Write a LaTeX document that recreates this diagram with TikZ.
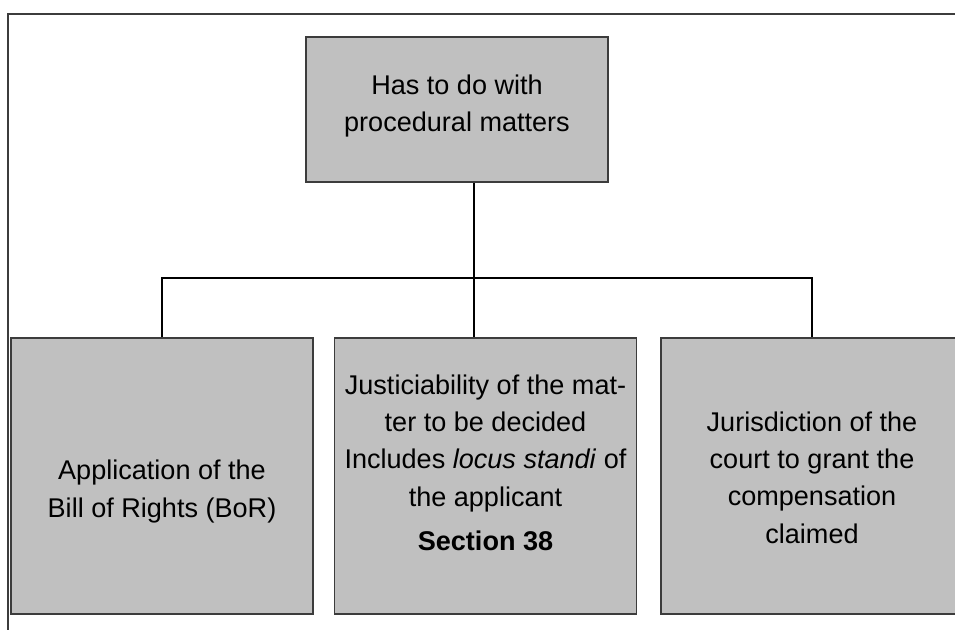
\documentclass[tikz,border=0pt]{standalone}
\usepackage{fontspec}
\setmainfont{Liberation Sans}
\usepackage{tikz}
\usetikzlibrary{positioning}
\definecolor{boxgray}{RGB}{192,192,192}
\definecolor{linegray}{RGB}{60,60,60}
\tikzset{
    mybox/.style = {rectangle, draw=linegray, line width=1.1pt, fill=boxgray, align=center, inner sep=0pt, minimum width=226.5pt, text=black},
    mytall/.style = {mybox, minimum height=207pt, text depth=0pt},
    edgel/.style = {-, line width=0.9pt, black},
    framel/.style = {-, line width=1.1pt, linegray}
}

\begin{document}
\begin{tikzpicture}[
	x=0.75pt, y=-0.75pt,
	font=\fontsize{20.3pt}{28pt}\selectfont]
  \useasboundingbox (0,0) rectangle (955,630);
  \clip (0,0) rectangle (955,630);
  % frame
  \draw[framel] (965,14) -| (8,640);
  % boxes
  \node (top) at (457,109.5) [mybox, minimum height=108.75pt, text height=33.75pt, text depth=0pt] {Has to do with\\procedural matters};
  \node (bor) at (162,476) [mytall, text height=61.5pt] {Application of the\\Bill of Rights (BoR)};
  \node (just) at (485.5,476) [mytall, text height=111pt] {Justiciability of the mat-\\ter to be decided\\Includes \textit{locus standi} of\\the applicant\\[5pt]\textbf{Section 38}};
  \node (juris) at (812,476) [mytall, text height=100.5pt] {Jurisdiction of the\\court to grant the\\compensation\\claimed};
  % connectors
  \coordinate (hub) at (474,278);
  \draw[edgel] (top.south -| hub) -- (hub);
  \draw[edgel] (bor.north) |- (hub) -| (juris.north);
  \draw[edgel] (hub) -- (just.north -| hub);
\end{tikzpicture}
\end{document}
